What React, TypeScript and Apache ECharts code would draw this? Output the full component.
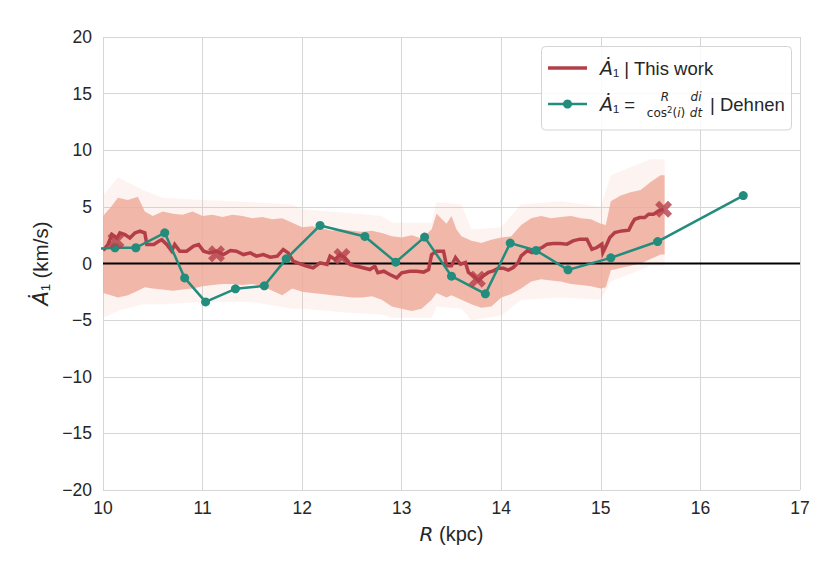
import React, { useEffect, useRef } from "react";
import * as echarts from "echarts";

// A1-dot, "This work" (running estimate)
const workR = [10.0, 10.01, 10.05, 10.09, 10.14, 10.17, 10.22, 10.27, 10.32, 10.37, 10.42, 10.44, 10.51, 10.56, 10.59, 10.64, 10.69, 10.72, 10.77, 10.84, 10.91, 10.96, 11.01, 11.07, 11.14, 11.21, 11.28, 11.34, 11.41, 11.48, 11.54, 11.61, 11.68, 11.75, 11.81, 11.86, 11.91, 11.98, 12.05, 12.11, 12.18, 12.25, 12.28, 12.33, 12.38, 12.43, 12.48, 12.55, 12.61, 12.68, 12.73, 12.76, 12.82, 12.88, 12.95, 13.0, 13.08, 13.15, 13.22, 13.27, 13.3, 13.35, 13.42, 13.45, 13.5, 13.54, 13.59, 13.64, 13.67, 13.72, 13.77, 13.82, 13.87, 13.92, 13.97, 14.02, 14.07, 14.12, 14.17, 14.2, 14.26, 14.31, 14.36, 14.41, 14.46, 14.52, 14.59, 14.66, 14.72, 14.79, 14.86, 14.91, 14.96, 15.01, 15.02, 15.06, 15.09, 15.14, 15.21, 15.28, 15.31, 15.34, 15.39, 15.44, 15.48, 15.53, 15.58, 15.63];
const workA = [1.2, 1.24, 1.68, 2.56, 2.26, 2.7, 2.56, 2.26, 2.7, 2.85, 2.7, 1.68, 1.68, 1.97, 2.1, 1.68, 1.09, 1.68, 1.09, 1.09, 1.53, 1.68, 1.09, 0.94, 1.09, 0.79, 1.15, 1.09, 0.79, 0.94, 0.65, 0.79, 0.56, 0.65, 1.24, 0.94, 0.2, -0.03, -0.24, -0.38, 0.06, -0.09, 0.65, 0.35, 0.79, 0.5, -0.09, -0.24, -0.38, -0.53, -0.24, -0.82, -0.68, -0.97, -1.26, -0.82, -0.68, -0.68, -0.76, -0.53, 0.79, 1.09, 1.09, -0.2, -0.2, 0.53, -0.06, 0.09, -0.79, -1.09, -1.53, -1.09, -0.79, -0.65, -0.41, -0.41, -0.59, -0.35, 0.09, 0.68, 1.12, 0.97, 1.26, 1.41, 1.71, 1.76, 1.76, 1.71, 2.0, 2.15, 2.15, 1.26, 1.41, 1.71, 0.97, 1.71, 2.29, 2.74, 2.88, 2.94, 3.47, 3.91, 4.06, 4.06, 4.35, 4.35, 4.65, 4.79];

// crosses
const crossR = [10.13, 11.14, 12.4, 13.76, 15.63];
const crossA = [2.03, 0.85, 0.62, -1.38, 4.79];

// Dehnen
const dehnenR = [9.85, 10.12, 10.33, 10.62, 10.82, 11.03, 11.33, 11.62, 11.84, 12.18, 12.63, 12.94, 13.23, 13.5, 13.84, 14.09, 14.35, 14.67, 15.1, 15.57, 16.43];
const dehnenA = [1.25, 1.39, 1.39, 2.71, -1.27, -3.39, -2.24, -1.97, 0.41, 3.36, 2.39, 0.12, 2.33, -1.12, -2.68, 1.8, 1.15, -0.56, 0.5, 1.94, 6.0];

// dense sample cloud envelope
const coreR = [10.0, 10.08, 10.15, 10.25, 10.35, 10.42, 10.5, 10.6, 10.7, 10.8, 10.9, 11.0, 11.1, 11.2, 11.3, 11.4, 11.5, 11.6, 11.7, 11.8, 11.9, 12.0, 12.1, 12.2, 12.3, 12.4, 12.5, 12.6, 12.7, 12.8, 12.9, 13.0, 13.1, 13.2, 13.3, 13.35, 13.45, 13.5, 13.55, 13.6, 13.7, 13.8, 13.9, 14.0, 14.1, 14.2, 14.3, 14.4, 14.5, 14.6, 14.7, 14.8, 14.9, 15.0, 15.05, 15.1, 15.2, 15.3, 15.4, 15.5, 15.6, 15.64];
const coreHi = [4.2, 5.0, 5.8, 5.6, 5.9, 4.6, 4.2, 4.6, 4.4, 4.3, 4.6, 4.2, 4.3, 4.1, 4.3, 4.2, 4.0, 4.1, 3.9, 4.0, 3.6, 3.2, 3.3, 3.1, 2.9, 3.0, 2.9, 2.8, 2.9, 2.7, 2.4, 2.3, 2.5, 2.2, 3.0, 4.4, 3.5, 4.2, 3.0, 2.4, 2.0, 1.8, 2.1, 2.3, 2.4, 3.4, 4.0, 4.2, 4.0, 4.1, 4.2, 4.0, 3.9, 3.5, 3.4, 5.5, 6.0, 6.3, 6.5, 7.2, 7.8, 7.8];
const coreLo = [-2.6, -2.8, -3.0, -2.8, -2.4, -2.1, -2.2, -2.3, -2.4, -2.3, -2.2, -2.0, -1.9, -1.8, -1.8, -1.9, -1.8, -2.0, -2.4, -2.8, -2.2, -2.5, -2.6, -2.7, -2.8, -2.9, -3.0, -3.0, -2.9, -3.2, -3.8, -4.0, -4.2, -4.0, -3.2, -2.6, -3.0, -2.8, -3.0, -3.2, -3.6, -3.9, -3.8, -3.0, -2.7, -2.2, -1.6, -1.4, -1.5, -1.6, -1.8, -1.9, -2.0, -2.2, -2.1, -0.6, -0.4, -0.2, 0.0, 0.4, 0.8, 0.8];

// faint outer scatter envelope
const outerR = [10.0, 10.15, 10.4, 10.6, 11.0, 11.5, 11.9, 12.0, 12.4, 12.8, 12.9, 13.3, 13.35, 13.6, 13.7, 14.0, 14.2, 14.6, 15.0, 15.1, 15.5, 15.64];
const outerHi = [6.0, 7.6, 6.5, 5.8, 5.6, 5.4, 5.2, 4.8, 4.5, 4.2, 3.6, 3.6, 5.4, 5.2, 3.0, 3.2, 5.2, 5.5, 5.0, 7.8, 9.2, 9.2];
const outerLo = [-4.8, -4.2, -3.6, -3.6, -3.4, -3.4, -4.0, -4.0, -4.3, -4.5, -4.8, -4.8, -3.8, -4.0, -5.0, -4.6, -3.2, -3.0, -3.2, -1.6, -0.2, -0.2];

const xTicks = { min: 10, max: 17, interval: 1 };
const yTicks = { min: -20, max: 20, interval: 5 };

const RED = "#b43e48";
const TEAL = "#228c7d";
const TXT = "#262626";
const FONT = "'Liberation Sans', Arial, sans-serif";
const MATH = "'DejaVu Sans', sans-serif";

const crossPath =
  "path://M2.4,0 L5,2.6 L7.6,0 L10,2.4 L7.4,5 L10,7.6 L7.6,10 L5,7.4 L2.4,10 L0,7.6 L2.6,5 L0,2.4 Z";

function bandRender(R: number[], lo: number[], hi: number[], fill: string, opacity: number) {
  return (params: any, api: any) => {
    if (params.dataIndex !== 0) return null;
    const pts: number[][] = [];
    for (let i = 0; i < R.length; i++) pts.push(api.coord([R[i], hi[i]]));
    for (let i = R.length - 1; i >= 0; i--) pts.push(api.coord([R[i], lo[i]]));
    return {
      type: "polygon",
      shape: { points: pts },
      style: { fill, opacity, stroke: "none" },
    };
  };
}

export default function App() {
  const ref = useRef<HTMLDivElement>(null);
  useEffect(() => {
    document.body.style.margin = "0";
    const chart = echarts.init(ref.current!, null, { renderer: "svg" });
    const option: any = {
      animation: false,
      backgroundColor: "#ffffff",
      grid: { left: 103, right: 40, top: 37, bottom: 84, containLabel: false },
      xAxis: {
        type: "value",
        min: xTicks.min,
        max: xTicks.max,
        interval: xTicks.interval,
        name: "{i|R}{n| (kpc)}",
        nameLocation: "middle",
        nameGap: 34,
        nameTextStyle: {
          rich: {
            i: { fontFamily: MATH, fontStyle: "italic", fontSize: 20, color: TXT },
            n: { fontFamily: FONT, fontSize: 20, color: TXT },
          },
        },
        axisLine: { show: false },
        axisTick: { show: false },
        axisLabel: { fontFamily: FONT, fontSize: 17.5, color: TXT, margin: 9 },
        splitLine: { show: true, lineStyle: { color: "#d6d6d6", width: 1 } },
      },
      yAxis: {
        type: "value",
        min: yTicks.min,
        max: yTicks.max,
        interval: yTicks.interval,
        name: "{a|Ȧ}{b|₁ (km/s)}",
        nameLocation: "middle",
        nameGap: 52,
        nameRotate: 90,
        nameTextStyle: {
          rich: {
            a: { fontFamily: MATH, fontStyle: "italic", fontSize: 21, color: TXT },
            b: { fontFamily: FONT, fontSize: 20.5, color: TXT },
          },
        },
        axisLine: { show: false },
        axisTick: { show: false },
        axisLabel: {
          fontFamily: FONT,
          fontSize: 17.5,
          color: TXT,
          margin: 11,
          formatter: (v: number) => (v < 0 ? "\u2212" + Math.abs(v) : String(v)),
        },
        splitLine: { show: true, lineStyle: { color: "#d6d6d6", width: 1 } },
      },
      series: [
        {
          type: "custom",
          name: "outer",
          renderItem: bandRender(outerR, outerLo, outerHi, "#f1b2a3", 0.16),
          data: [[outerR[0], 0]],
          silent: true,
          z: 1,
          clip: true,
        },
        {
          type: "custom",
          name: "core",
          renderItem: bandRender(coreR, coreLo, coreHi, "#eeab9b", 0.85),
          data: [[coreR[0], 0]],
          silent: true,
          z: 2,
          clip: true,
        },
        {
          type: "line",
          name: "zero",
          data: [[xTicks.min, 0], [xTicks.max, 0]],
          symbol: "none",
          lineStyle: { color: "#000000", width: 2 },
          silent: true,
          z: 3,
        },
        {
          type: "line",
          name: "This work",
          data: workR.map((r, i) => [r, workA[i]]),
          symbol: "none",
          lineStyle: { color: RED, width: 3.5, join: "miter" },
          z: 4,
        },
        {
          type: "line",
          name: "Dehnen",
          data: dehnenR.map((r, i) => [r, dehnenA[i]]),
          symbol: "circle",
          symbolSize: 9,
          showAllSymbol: true,
          itemStyle: { color: TEAL },
          lineStyle: { color: TEAL, width: 2.5 },
          clip: true,
          z: 5,
        },
        {
          type: "scatter",
          name: "crosses",
          data: crossR.map((r, i) => [r, crossA[i]]),
          symbol: crossPath,
          symbolSize: 17,
          itemStyle: { color: RED },
          z: 6,
        },
      ],
      graphic: [
        {
          type: "rect",
          shape: { x: 541.5, y: 46.5, width: 250, height: 83.5, r: 4 },
          style: { fill: "rgba(255,255,255,0.85)", stroke: "#d4d4d4", lineWidth: 1 },
          z: 100,
        },
        {
          type: "line",
          shape: { x1: 548, y1: 68, x2: 587, y2: 68 },
          style: { stroke: RED, lineWidth: 3.5 },
          z: 101,
        },
        {
          type: "text",
          x: 600,
          y: 68,
          style: {
            text: "{a|Ȧ}{b|₁ | This work}",
            verticalAlign: "middle",
            rich: {
              a: { fontFamily: MATH, fontStyle: "italic", fontSize: 19, fill: TXT },
              b: { fontFamily: FONT, fontSize: 18.5, fill: TXT },
            },
          },
          z: 101,
        },
        {
          type: "line",
          shape: { x1: 548, y1: 104, x2: 587, y2: 104 },
          style: { stroke: TEAL, lineWidth: 2.5 },
          z: 101,
        },
        {
          type: "circle",
          shape: { cx: 567.5, cy: 104, r: 4.5 },
          style: { fill: TEAL },
          z: 101,
        },
        {
          type: "text",
          x: 600,
          y: 104,
          style: {
            text: "{a|Ȧ}{b|₁ =}",
            verticalAlign: "middle",
            rich: {
              a: { fontFamily: MATH, fontStyle: "italic", fontSize: 19, fill: TXT },
              b: { fontFamily: FONT, fontSize: 18.5, fill: TXT },
            },
          },
          z: 101,
        },
        {
          type: "text",
          x: 665,
          y: 97,
          style: { text: "R", align: "center", verticalAlign: "middle", fontFamily: MATH, fontStyle: "italic", fontSize: 12, fill: TXT },
          z: 101,
        },
        {
          type: "text",
          x: 666,
          y: 113,
          style: {
            text: "{n|cos}{s|2}{n|(}{i|i}{n|)}",
            align: "center",
            verticalAlign: "middle",
            rich: {
              n: { fontFamily: MATH, fontSize: 12, fill: TXT },
              s: { fontFamily: MATH, fontSize: 8.5, fill: TXT, padding: [0, 0, 6, 0] },
              i: { fontFamily: MATH, fontStyle: "italic", fontSize: 12, fill: TXT },
            },
          },
          z: 101,
        },
        {
          type: "text",
          x: 696,
          y: 97,
          style: { text: "di", align: "center", verticalAlign: "middle", fontFamily: MATH, fontStyle: "italic", fontSize: 12, fill: TXT },
          z: 101,
        },
        {
          type: "text",
          x: 696,
          y: 113,
          style: { text: "dt", align: "center", verticalAlign: "middle", fontFamily: MATH, fontStyle: "italic", fontSize: 12, fill: TXT },
          z: 101,
        },
        {
          type: "text",
          x: 710,
          y: 104,
          style: { text: "| Dehnen", verticalAlign: "middle", fontFamily: FONT, fontSize: 18.5, fill: TXT },
          z: 101,
        },
      ],
    };
    chart.setOption(option);
    return () => chart.dispose();
  }, []);
  return <div ref={ref} style={{ width: 840, height: 574 }} />;
}
